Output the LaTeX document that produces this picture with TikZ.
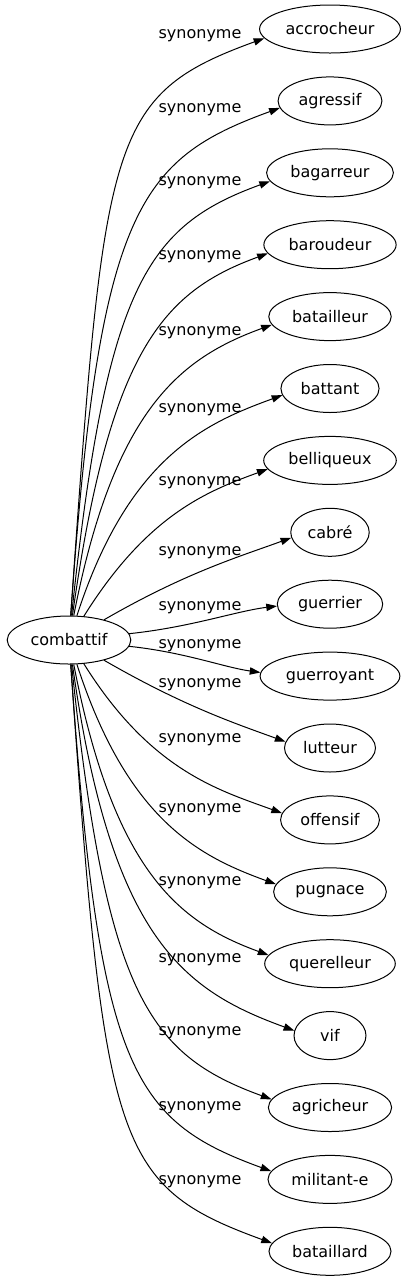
\documentclass[tikz,border=0pt]{standalone}
\usepackage{fontspec}
\setmainfont{DejaVu Sans}
\usepackage{tikz}
\usetikzlibrary{arrows.meta,positioning,shapes.geometric,calc}

\begin{document}
\begin{tikzpicture}[x=0.75pt,y=0.75pt,
    word/.style={ellipse, draw, line width=0.75pt, minimum width=54pt,
                 minimum height=36pt, inner xsep=4pt, font=\fontsize{12}{14}\selectfont},
    rel/.style={font=\fontsize{12}{14}\selectfont},
    syn/.style={-{Triangle[length=8pt,width=5.5pt]}, line width=0.75pt}]
  \useasboundingbox (0,0) rectangle (406,-1283);
  \node[word] (c) at (69,-640) {combattif};
  \foreach \w/\ly [count=\i from 0] in {accrocheur/36, agressif/110, bagarreur/183,
      baroudeur/257, batailleur/333, battant/410, belliqueux/483, cabré/553,
      guerrier/608, guerroyant/646, lutteur/685, offensif/740, pugnace/810,
      querelleur/883, vif/960, agricheur/1033, militant-e/1108, bataillard/1182} {
    \pgfmathsetmacro\ty{29+71.9*\i}
    \pgfmathsetmacro\dy{640-\ty}
    \pgfmathsetmacro\sg{sign(\dy)}
    \pgfmathsetmacro\ad{abs(\dy)}
    \pgfmathtruncatemacro\outa{\sg*(atan((\ad/141)^2)+5*(1-min(1,\ad/100)))}
    \pgfmathtruncatemacro\ina{180+\sg*20*min(1,\ad/100)}
    \pgfmathtruncatemacro\enda{180+\sg*8*min(1,\ad/100)}
    \pgfmathsetmacro\lo{1+\ad/600}
    \node[word] (s\i) at (330,-\ty) {\w};
    \node[rel] (l\i) at (200,-\ly) {synonyme};
    \draw[syn] (c) to[out=\outa, in=\ina, out looseness=\lo, in looseness=0.7] (s\i.\enda);
  }
\end{tikzpicture}
\end{document}
